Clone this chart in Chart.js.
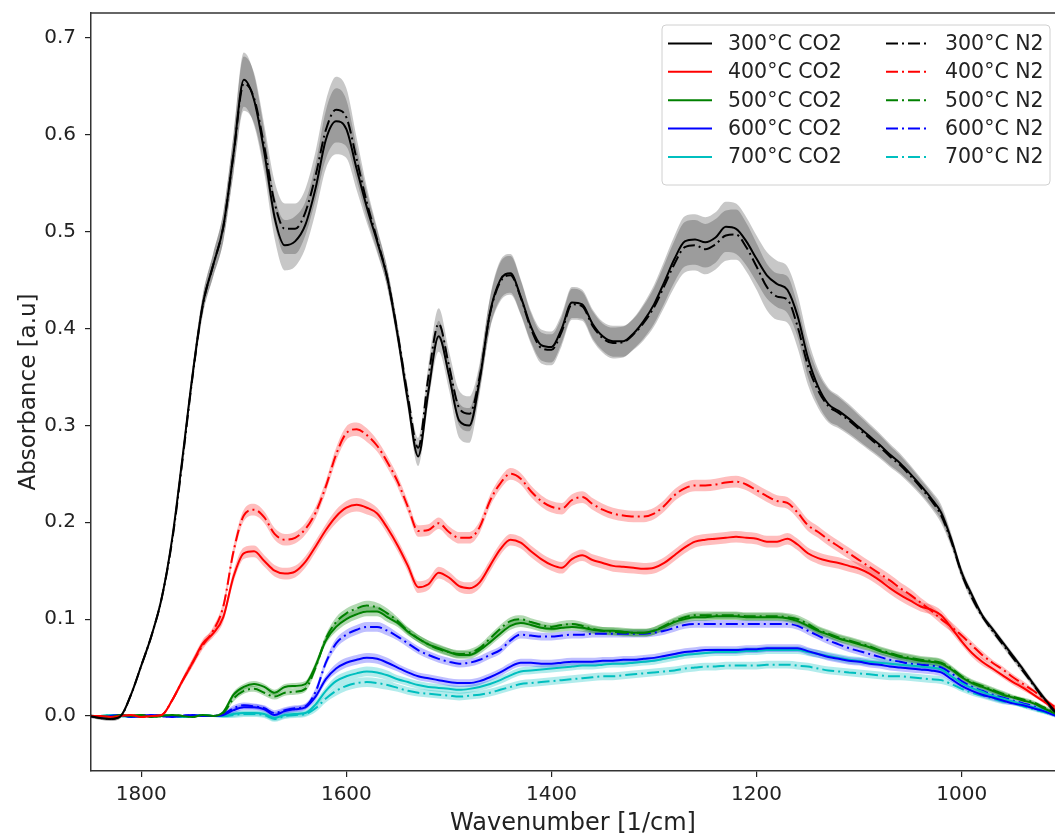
<!DOCTYPE html>
<html>
<head>
<meta charset="utf-8">
<title>FTIR spectra</title>
<script src="https://cdn.jsdelivr.net/npm/chart.js@4.4.0/dist/chart.umd.min.js"></script>
<style>
  html, body { margin: 0; padding: 0; background: #fff; }
  canvas { display: block; }
</style>
</head>
<body>
<canvas id="spectraChart" width="1055" height="836"></canvas>
<script>
// wavenumber grid [1/cm], shared by every spectrum
var wavenumbers = [
  1850, 1840, 1830, 1820, 1810, 1800, 1790, 1780, 1770, 1760,
  1750, 1740, 1730, 1720, 1710, 1700, 1690, 1680, 1670, 1660,
  1650, 1640, 1630, 1620, 1610, 1600, 1590, 1580, 1570, 1560,
  1550, 1540, 1530, 1520, 1510, 1500, 1490, 1480, 1470, 1460,
  1450, 1440, 1430, 1420, 1410, 1400, 1390, 1380, 1370, 1360,
  1350, 1340, 1330, 1320, 1310, 1300, 1290, 1280, 1270, 1260,
  1250, 1240, 1230, 1220, 1210, 1200, 1190, 1180, 1170, 1160,
  1150, 1140, 1130, 1120, 1110, 1100, 1090, 1080, 1070, 1060,
  1050, 1040, 1030, 1020, 1010, 1000, 990, 980, 970, 960,
  950, 940, 930, 920, 910, 900
];

var xTicks = [1800, 1600, 1400, 1200, 1000];
var yTicks = [0.0, 0.1, 0.2, 0.3, 0.4, 0.5, 0.6, 0.7];

// mean absorbance, CO2 atmosphere
var co2_300 = [
  0.000, -0.002, -0.003, 0.000, 0.022, 0.052, 0.083, 0.122, 0.182, 0.265,
  0.352, 0.425, 0.465, 0.505, 0.581, 0.657, 0.636, 0.582, 0.515, 0.486,
  0.490, 0.507, 0.545, 0.595, 0.614, 0.606, 0.565, 0.525, 0.490, 0.452,
  0.393, 0.325, 0.268, 0.335, 0.392, 0.352, 0.305, 0.300, 0.347, 0.416,
  0.450, 0.457, 0.433, 0.402, 0.383, 0.381, 0.400, 0.427, 0.425, 0.405,
  0.392, 0.387, 0.387, 0.395, 0.408, 0.425, 0.448, 0.472, 0.490, 0.492,
  0.489, 0.494, 0.505, 0.503, 0.490, 0.472, 0.455, 0.446, 0.440, 0.413,
  0.370, 0.340, 0.322, 0.315, 0.307, 0.298, 0.289, 0.280, 0.270, 0.261,
  0.250, 0.238, 0.225, 0.210, 0.182, 0.148, 0.125, 0.104, 0.090, 0.076,
  0.062, 0.048, 0.033, 0.019, 0.006, -0.006
];
var co2_400 = [
  0.000, 0.000, -0.001, 0.000, 0.001, -0.001, 0.000, 0.001, 0.016, 0.036,
  0.055, 0.075, 0.085, 0.102, 0.144, 0.168, 0.170, 0.160, 0.150, 0.147,
  0.149, 0.159, 0.175, 0.192, 0.206, 0.215, 0.218, 0.215, 0.209, 0.194,
  0.176, 0.155, 0.133, 0.136, 0.148, 0.143, 0.134, 0.132, 0.138, 0.155,
  0.172, 0.182, 0.179, 0.170, 0.162, 0.156, 0.153, 0.162, 0.166, 0.161,
  0.158, 0.155, 0.154, 0.153, 0.152, 0.153, 0.158, 0.166, 0.174, 0.180,
  0.182, 0.183, 0.184, 0.185, 0.184, 0.183, 0.180, 0.180, 0.183, 0.177,
  0.168, 0.163, 0.160, 0.158, 0.155, 0.152, 0.147, 0.140, 0.132, 0.125,
  0.119, 0.113, 0.110, 0.104, 0.091, 0.077, 0.065, 0.056, 0.049, 0.042,
  0.035, 0.029, 0.022, 0.015, 0.008, 0.002
];
var co2_500 = [
  0.000, 0.000, -0.001, 0.001, 0.000, 0.001, -0.001, 0.000, 0.001, 0.000,
  -0.001, 0.001, 0.000, 0.004, 0.022, 0.030, 0.033, 0.030, 0.024, 0.030,
  0.031, 0.033, 0.052, 0.078, 0.092, 0.100, 0.105, 0.108, 0.108, 0.102,
  0.096, 0.087, 0.080, 0.074, 0.070, 0.066, 0.063, 0.063, 0.068, 0.076,
  0.085, 0.093, 0.096, 0.094, 0.091, 0.090, 0.091, 0.092, 0.091, 0.089,
  0.088, 0.088, 0.087, 0.086, 0.086, 0.088, 0.092, 0.097, 0.100, 0.102,
  0.102, 0.103, 0.103, 0.103, 0.102, 0.102, 0.102, 0.102, 0.101, 0.098,
  0.093, 0.088, 0.084, 0.080, 0.077, 0.074, 0.071, 0.067, 0.064, 0.061,
  0.059, 0.057, 0.056, 0.054, 0.048, 0.040, 0.034, 0.030, 0.026, 0.022,
  0.019, 0.016, 0.013, 0.008, 0.003, -0.002
];
var co2_600 = [
  0.000, -0.001, 0.000, 0.001, -0.001, 0.000, 0.001, 0.000, -0.001, 0.000,
  0.001, 0.000, 0.000, 0.001, 0.006, 0.009, 0.009, 0.007, 0.001, 0.005,
  0.007, 0.009, 0.020, 0.038, 0.049, 0.055, 0.058, 0.060, 0.059, 0.055,
  0.050, 0.045, 0.041, 0.039, 0.037, 0.035, 0.034, 0.034, 0.036, 0.040,
  0.045, 0.051, 0.055, 0.055, 0.054, 0.054, 0.055, 0.056, 0.056, 0.056,
  0.057, 0.057, 0.058, 0.058, 0.059, 0.060, 0.062, 0.064, 0.066, 0.067,
  0.068, 0.068, 0.068, 0.068, 0.069, 0.069, 0.070, 0.070, 0.070, 0.070,
  0.067, 0.064, 0.061, 0.059, 0.057, 0.056, 0.054, 0.053, 0.051, 0.050,
  0.049, 0.048, 0.047, 0.045, 0.038, 0.031, 0.026, 0.022, 0.019, 0.016,
  0.013, 0.011, 0.008, 0.005, 0.001, -0.002
];
var co2_700 = [
  0.000, 0.000, 0.001, 0.000, -0.001, 0.000, 0.000, 0.001, 0.000, -0.001,
  0.000, 0.001, 0.000, 0.000, 0.002, 0.003, 0.003, 0.002, -0.002, 0.001,
  0.002, 0.003, 0.012, 0.026, 0.036, 0.041, 0.044, 0.046, 0.045, 0.042,
  0.038, 0.035, 0.032, 0.030, 0.029, 0.028, 0.027, 0.028, 0.030, 0.033,
  0.037, 0.042, 0.046, 0.047, 0.048, 0.049, 0.050, 0.051, 0.052, 0.052,
  0.053, 0.054, 0.054, 0.055, 0.056, 0.057, 0.059, 0.061, 0.063, 0.064,
  0.065, 0.066, 0.066, 0.066, 0.067, 0.067, 0.068, 0.068, 0.068, 0.068,
  0.066, 0.064, 0.062, 0.060, 0.058, 0.057, 0.056, 0.055, 0.054, 0.053,
  0.052, 0.051, 0.050, 0.048, 0.041, 0.034, 0.029, 0.025, 0.021, 0.018,
  0.015, 0.012, 0.009, 0.006, 0.002, -0.002
];

// mean absorbance, N2 atmosphere
var n2_300 = [
  0.000, -0.002, -0.003, 0.000, 0.022, 0.052, 0.083, 0.122, 0.180, 0.262,
  0.350, 0.424, 0.465, 0.505, 0.580, 0.653, 0.638, 0.588, 0.530, 0.503,
  0.503, 0.520, 0.558, 0.605, 0.626, 0.618, 0.575, 0.530, 0.492, 0.452,
  0.395, 0.330, 0.277, 0.350, 0.405, 0.362, 0.318, 0.312, 0.350, 0.415,
  0.448, 0.455, 0.432, 0.400, 0.380, 0.378, 0.397, 0.425, 0.423, 0.403,
  0.390, 0.385, 0.386, 0.394, 0.406, 0.422, 0.444, 0.467, 0.484, 0.486,
  0.482, 0.487, 0.496, 0.497, 0.484, 0.464, 0.443, 0.433, 0.430, 0.402,
  0.362, 0.336, 0.320, 0.313, 0.305, 0.296, 0.287, 0.278, 0.268, 0.259,
  0.248, 0.236, 0.223, 0.207, 0.180, 0.147, 0.122, 0.103, 0.088, 0.074,
  0.060, 0.046, 0.032, 0.018, 0.005, -0.006
];
var n2_400 = [
  0.000, 0.000, -0.001, 0.000, 0.001, -0.001, 0.000, 0.001, 0.016, 0.036,
  0.055, 0.073, 0.088, 0.113, 0.170, 0.207, 0.213, 0.205, 0.188, 0.182,
  0.184, 0.193, 0.210, 0.237, 0.270, 0.292, 0.296, 0.290, 0.279, 0.262,
  0.242, 0.216, 0.191, 0.192, 0.199, 0.190, 0.184, 0.184, 0.195, 0.222,
  0.240, 0.250, 0.245, 0.232, 0.222, 0.216, 0.214, 0.223, 0.226, 0.219,
  0.213, 0.209, 0.207, 0.206, 0.206, 0.209, 0.217, 0.228, 0.235, 0.238,
  0.238, 0.239, 0.241, 0.242, 0.239, 0.233, 0.227, 0.222, 0.220, 0.210,
  0.197, 0.190, 0.182, 0.175, 0.168, 0.161, 0.154, 0.147, 0.140, 0.132,
  0.125, 0.117, 0.109, 0.100, 0.092, 0.083, 0.073, 0.063, 0.055, 0.048,
  0.040, 0.033, 0.026, 0.018, 0.010, 0.003
];
var n2_500 = [
  0.000, 0.000, -0.001, 0.001, 0.000, 0.001, -0.001, 0.000, 0.001, 0.000,
  -0.001, 0.001, 0.000, 0.003, 0.018, 0.026, 0.028, 0.024, 0.020, 0.024,
  0.025, 0.028, 0.050, 0.080, 0.097, 0.106, 0.111, 0.114, 0.112, 0.106,
  0.098, 0.088, 0.080, 0.074, 0.069, 0.066, 0.064, 0.065, 0.070, 0.080,
  0.090, 0.098, 0.100, 0.097, 0.094, 0.092, 0.094, 0.095, 0.093, 0.090,
  0.088, 0.087, 0.086, 0.086, 0.086, 0.088, 0.093, 0.098, 0.102, 0.104,
  0.104, 0.104, 0.104, 0.104, 0.103, 0.103, 0.103, 0.103, 0.102, 0.100,
  0.095, 0.089, 0.085, 0.081, 0.078, 0.075, 0.072, 0.068, 0.065, 0.062,
  0.060, 0.058, 0.057, 0.055, 0.049, 0.041, 0.035, 0.031, 0.027, 0.023,
  0.020, 0.017, 0.014, 0.009, 0.004, -0.001
];
var n2_600 = [
  0.000, -0.001, 0.000, 0.001, -0.001, 0.000, 0.001, 0.000, -0.001, 0.000,
  0.001, 0.000, 0.000, 0.002, 0.008, 0.011, 0.010, 0.008, 0.003, 0.006,
  0.008, 0.010, 0.025, 0.055, 0.075, 0.084, 0.089, 0.092, 0.092, 0.088,
  0.082, 0.075, 0.068, 0.063, 0.059, 0.056, 0.054, 0.055, 0.058, 0.063,
  0.068, 0.078, 0.084, 0.083, 0.082, 0.082, 0.083, 0.084, 0.084, 0.085,
  0.085, 0.085, 0.085, 0.085, 0.085, 0.086, 0.088, 0.091, 0.094, 0.095,
  0.095, 0.095, 0.095, 0.095, 0.095, 0.095, 0.095, 0.095, 0.095, 0.093,
  0.088, 0.083, 0.078, 0.074, 0.070, 0.067, 0.064, 0.061, 0.058, 0.056,
  0.054, 0.053, 0.052, 0.050, 0.044, 0.036, 0.030, 0.026, 0.022, 0.019,
  0.016, 0.013, 0.010, 0.006, 0.002, -0.002
];
var n2_700 = [
  0.000, 0.000, 0.001, 0.000, -0.001, 0.000, 0.000, 0.001, 0.000, -0.001,
  0.000, 0.001, 0.000, 0.000, 0.001, 0.002, 0.002, 0.001, -0.003, 0.000,
  0.001, 0.002, 0.008, 0.018, 0.026, 0.031, 0.034, 0.035, 0.034, 0.032,
  0.029, 0.026, 0.024, 0.023, 0.022, 0.021, 0.020, 0.021, 0.022, 0.024,
  0.027, 0.030, 0.033, 0.034, 0.035, 0.036, 0.037, 0.038, 0.039, 0.040,
  0.041, 0.041, 0.042, 0.043, 0.044, 0.045, 0.046, 0.047, 0.049, 0.050,
  0.051, 0.051, 0.052, 0.052, 0.052, 0.052, 0.053, 0.053, 0.053, 0.052,
  0.051, 0.049, 0.047, 0.046, 0.045, 0.044, 0.043, 0.042, 0.041, 0.041,
  0.040, 0.039, 0.038, 0.037, 0.033, 0.028, 0.024, 0.021, 0.018, 0.015,
  0.013, 0.010, 0.007, 0.004, 0.001, -0.002
];

// standard deviation of the replicates (shaded bands)
var std_300 = [
  0.002, 0.002, 0.002, 0.002, 0.002, 0.002, 0.002, 0.003, 0.004, 0.006,
  0.008, 0.010, 0.012, 0.015, 0.020, 0.028, 0.026, 0.022, 0.022, 0.026,
  0.026, 0.024, 0.025, 0.030, 0.034, 0.030, 0.022, 0.016, 0.012, 0.010,
  0.009, 0.009, 0.010, 0.012, 0.016, 0.015, 0.018, 0.018, 0.014, 0.016,
  0.020, 0.020, 0.018, 0.016, 0.016, 0.016, 0.015, 0.016, 0.015, 0.015,
  0.015, 0.016, 0.016, 0.016, 0.018, 0.020, 0.022, 0.024, 0.026, 0.026,
  0.026, 0.026, 0.026, 0.026, 0.025, 0.024, 0.024, 0.024, 0.024, 0.022,
  0.020, 0.018, 0.017, 0.016, 0.015, 0.014, 0.013, 0.012, 0.011, 0.010,
  0.009, 0.008, 0.008, 0.008, 0.006, 0.005, 0.004, 0.003, 0.003, 0.003,
  0.003, 0.003, 0.003, 0.003, 0.003, 0.003
];
var std_400 = [
  0.001, 0.001, 0.001, 0.001, 0.001, 0.001, 0.001, 0.001, 0.002, 0.003,
  0.004, 0.004, 0.004, 0.005, 0.006, 0.006, 0.006, 0.006, 0.006, 0.006,
  0.006, 0.006, 0.006, 0.006, 0.007, 0.007, 0.007, 0.007, 0.006, 0.006,
  0.006, 0.006, 0.006, 0.006, 0.006, 0.006, 0.006, 0.006, 0.006, 0.006,
  0.006, 0.006, 0.006, 0.006, 0.006, 0.006, 0.006, 0.006, 0.006, 0.006,
  0.006, 0.006, 0.006, 0.006, 0.006, 0.006, 0.006, 0.006, 0.006, 0.006,
  0.006, 0.006, 0.006, 0.006, 0.006, 0.006, 0.006, 0.006, 0.006, 0.006,
  0.006, 0.006, 0.006, 0.006, 0.006, 0.006, 0.006, 0.006, 0.006, 0.006,
  0.006, 0.005, 0.005, 0.005, 0.005, 0.004, 0.004, 0.004, 0.003, 0.003,
  0.003, 0.003, 0.002, 0.002, 0.002, 0.002
];
var std_low = [
  0.001, 0.001, 0.001, 0.001, 0.001, 0.001, 0.001, 0.001, 0.001, 0.001,
  0.001, 0.001, 0.001, 0.002, 0.003, 0.003, 0.003, 0.003, 0.003, 0.003,
  0.003, 0.003, 0.004, 0.004, 0.005, 0.005, 0.005, 0.005, 0.005, 0.005,
  0.004, 0.004, 0.004, 0.004, 0.004, 0.004, 0.004, 0.004, 0.004, 0.004,
  0.004, 0.004, 0.004, 0.004, 0.004, 0.004, 0.004, 0.004, 0.004, 0.004,
  0.004, 0.004, 0.004, 0.004, 0.004, 0.004, 0.004, 0.004, 0.004, 0.004,
  0.004, 0.004, 0.004, 0.004, 0.004, 0.004, 0.004, 0.004, 0.004, 0.004,
  0.004, 0.004, 0.004, 0.004, 0.004, 0.004, 0.004, 0.004, 0.004, 0.004,
  0.004, 0.004, 0.004, 0.004, 0.003, 0.003, 0.003, 0.003, 0.003, 0.003,
  0.002, 0.002, 0.002, 0.002, 0.002, 0.002
];

var dashDot = [12, 4, 2, 4];

// legend order: CO2 column first, then N2 column
var series = [
  { label: "300°C CO2", values: co2_300, std: std_300, color: "#000000", band: "rgba(0,0,0,0.22)",     dash: [] },
  { label: "400°C CO2", values: co2_400, std: std_400, color: "#ff0000", band: "rgba(255,0,0,0.26)",   dash: [] },
  { label: "500°C CO2", values: co2_500, std: std_low, color: "#008000", band: "rgba(0,128,0,0.3)",    dash: [] },
  { label: "600°C CO2", values: co2_600, std: std_low, color: "#0000ff", band: "rgba(0,0,255,0.25)",   dash: [] },
  { label: "700°C CO2", values: co2_700, std: std_low, color: "#00bfbf", band: "rgba(0,191,191,0.3)",  dash: [] },
  { label: "300°C N2",  values: n2_300,  std: std_300, color: "#000000", band: "rgba(0,0,0,0.22)",     dash: dashDot },
  { label: "400°C N2",  values: n2_400,  std: std_400, color: "#ff0000", band: "rgba(255,0,0,0.26)",   dash: dashDot },
  { label: "500°C N2",  values: n2_500,  std: std_low, color: "#008000", band: "rgba(0,128,0,0.3)",    dash: dashDot },
  { label: "600°C N2",  values: n2_600,  std: std_low, color: "#0000ff", band: "rgba(0,0,255,0.25)",   dash: dashDot },
  { label: "700°C N2",  values: n2_700,  std: std_low, color: "#00bfbf", band: "rgba(0,191,191,0.3)",  dash: dashDot }
];

function toPoints(vals) {
  return wavenumbers.map(function(w, i) { return { x: w, y: vals[i] }; });
}

var datasets = [];

// shaded bands first (mean +/- std), drawn under the lines
series.forEach(function(s) {
  var upper = s.values.map(function(v, i) { return v + s.std[i]; });
  var lower = s.values.map(function(v, i) { return v - s.std[i]; });
  datasets.push({
    data: toPoints(upper), borderWidth: 0, pointRadius: 0, fill: false,
    cubicInterpolationMode: "monotone", order: 10
  });
  datasets.push({
    data: toPoints(lower), borderWidth: 0, pointRadius: 0, fill: "-1",
    backgroundColor: s.band, cubicInterpolationMode: "monotone", order: 10
  });
});

series.forEach(function(s) {
  datasets.push({
    label: s.label,
    data: toPoints(s.values),
    borderColor: s.color,
    borderWidth: 2,
    borderDash: s.dash,
    pointRadius: 0,
    fill: false,
    cubicInterpolationMode: "monotone",
    order: 0,
    inLegend: true
  });
});

// matplotlib-like legend box, two columns
var cornerLegend = {
  id: "cornerLegend",
  afterDraw: function(chart) {
    var ctx = chart.ctx;
    var items = chart.data.datasets.filter(function(d) { return d.inLegend; });
    ctx.save();
    ctx.beginPath();
    if (ctx.roundRect) ctx.roundRect(662, 25, 388, 160, 4);
    else ctx.rect(662, 25, 388, 160);
    ctx.fillStyle = "rgba(255,255,255,0.8)";
    ctx.fill();
    ctx.strokeStyle = "#d0d0d0";
    ctx.lineWidth = 1;
    ctx.stroke();

    ctx.font = "20.5px 'DejaVu Sans'";
    ctx.textBaseline = "middle";
    items.forEach(function(d, i) {
      var col = i < 5 ? 0 : 1;
      var y = 43.5 + (i % 5) * 28.35;
      var x0 = col ? 886 : 668;
      ctx.beginPath();
      ctx.setLineDash(d.borderDash || []);
      ctx.strokeStyle = d.borderColor;
      ctx.lineWidth = 2;
      ctx.moveTo(x0, y);
      ctx.lineTo(x0 + 44, y);
      ctx.stroke();
      ctx.setLineDash([]);
      ctx.fillStyle = "#222";
      ctx.fillText(d.label, col ? 945 : 728, y + 1);
    });
    ctx.restore();
  }
};

// top spine (left and bottom come from the scale borders)
var topSpine = {
  id: "topSpine",
  afterDraw: function(chart) {
    var a = chart.chartArea;
    var ctx = chart.ctx;
    ctx.save();
    ctx.strokeStyle = "#333";
    ctx.lineWidth = 1.5;
    ctx.beginPath();
    ctx.moveTo(a.left, a.top);
    ctx.lineTo(a.right, a.top);
    ctx.stroke();
    ctx.restore();
  }
};

var ctx = document.getElementById("spectraChart").getContext("2d");
var spectraChart = new Chart(ctx, {
  type: "line",
  data: { datasets: datasets },
  plugins: [topSpine, cornerLegend],
  options: {
    responsive: false,
    devicePixelRatio: 1,
    animation: false,
    layout: { padding: { left: 0, top: 13, right: 0, bottom: 0 } },
    plugins: {
      legend: { display: false },
      tooltip: { enabled: false }
    },
    scales: {
      x: {
        type: "linear",
        reverse: true,
        min: 909,
        max: 1849,
        afterBuildTicks: function(scale) {
          scale.ticks = xTicks.map(function(v) { return { value: v }; });
        },
        afterFit: function(scale) {
          scale.height = 65;
          scale.paddingLeft = 0;
          scale.paddingRight = 0;
        },
        grid: { drawOnChartArea: false, drawTicks: true, tickLength: 6, color: "#222", lineWidth: 1.2 },
        border: { display: true, color: "#333", width: 1.5 },
        ticks: {
          color: "#222",
          padding: 6,
          maxRotation: 0,
          font: { family: "DejaVu Sans", size: 20 },
          callback: function(v) { return String(v); }
        },
        title: {
          display: true,
          text: "Wavenumber [1/cm]",
          color: "#222",
          font: { family: "DejaVu Sans", size: 24 },
          padding: { top: 0, bottom: -2 }
        }
      },
      y: {
        min: -0.0568,
        max: 0.7258,
        afterBuildTicks: function(scale) {
          scale.ticks = yTicks.map(function(v) { return { value: v }; });
        },
        afterFit: function(scale) {
          scale.width = 91;
          scale.paddingTop = 0;
          scale.paddingBottom = 0;
        },
        grid: { drawOnChartArea: false, drawTicks: true, tickLength: 6, color: "#222", lineWidth: 1.2 },
        border: { display: true, color: "#333", width: 1.5 },
        ticks: {
          color: "#222",
          padding: 9,
          font: { family: "DejaVu Sans", size: 20 },
          callback: function(v) { return v.toFixed(1); }
        },
        title: {
          display: true,
          text: "Absorbance [a.u]",
          color: "#222",
          font: { family: "DejaVu Sans", size: 23 },
          padding: { top: 15, bottom: 0 }
        }
      }
    }
  }
});
</script>
</body>
</html>
